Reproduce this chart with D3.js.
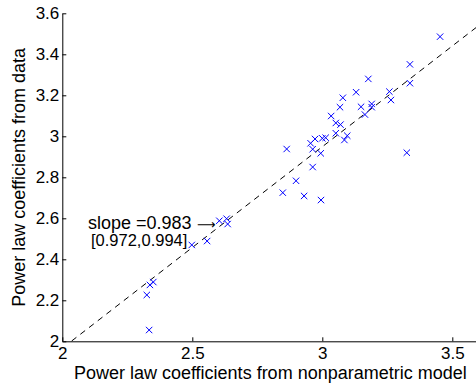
<!DOCTYPE html>
<html>
<head>
<meta charset="utf-8">
<script src="https://cdn.jsdelivr.net/npm/d3@7"></script>
<style>
  html, body { margin: 0; padding: 0; background: #fff; }
  svg { display: block; font-family: "Liberation Sans", Arial, Helvetica, sans-serif; }
</style>
</head>
<body>
<svg id="chart" width="476" height="387"></svg>
<script>
// Power-law exponents: nonparametric model (x) vs. direct fit to data (y)
const modelCoef = [
  3.453, 3.337, 3.337, 3.177, 3.130, 3.258, 3.264, 3.079, 3.068, 3.149,
  3.190, 3.190, 3.164, 3.034, 3.052, 3.070, 3.052, 3.096, 3.085, 2.972,
  3.000, 3.013, 2.955, 2.963, 2.994, 2.963, 3.325, 2.863, 2.899, 2.848,
  2.930, 2.995, 2.604, 2.632, 2.636, 2.498, 2.557, 2.350, 2.337, 2.325,
  2.334
];
const dataCoef = [
  3.486, 3.351, 3.259, 3.280, 3.215, 3.218, 3.177, 3.188, 3.142, 3.144,
  3.158, 3.142, 3.106, 3.099, 3.065, 3.057, 3.015, 3.003, 2.982, 2.987,
  2.990, 2.993, 2.966, 2.937, 2.917, 2.850, 2.920, 2.938, 2.783, 2.725,
  2.709, 2.689, 2.588, 2.598, 2.572, 2.470, 2.489, 2.289, 2.275, 2.226,
  2.055
];

// Fitted line through the origin
const slope = 0.983;
const slopeCI = [0.972, 0.994];
const fitRange = [2.036, 3.6];

const xTicks = [2, 2.5, 3, 3.5];
const xTickLabels = ["2", "2.5", "3", "3.5"];
const yTicks = [2, 2.2, 2.4, 2.6, 2.8, 3, 3.2, 3.4, 3.6];
const yTickLabels = ["2", "2.2", "2.4", "2.6", "2.8", "3", "3.2", "3.4", "3.6"];

const xLabel = "Power law coefficients from nonparametric model";
const yLabel = "Power law coefficients from data";

const svg = d3.select("#chart");
const plotLeft = 62.3, plotRight = 478.3, plotTop = 13.3, plotBottom = 341.3;

const x = d3.scaleLinear().domain([2, 3.6]).range([plotLeft, plotRight]);
const y = d3.scaleLinear().domain([2, 3.6]).range([plotBottom, plotTop]);

// Dashed regression line
const fit = fitRange.map(v => [v, slope * v]);
svg.append("path")
  .attr("d", d3.line().x(d => x(d[0])).y(d => y(d[1]))(fit))
  .attr("fill", "none")
  .attr("stroke", "#000")
  .attr("stroke-width", 1)
  .attr("stroke-dasharray", "6,5");

// Cross markers
const pts = modelCoef.map((v, i) => [v, dataCoef[i]]);
const r = 3.2;
svg.append("g").selectAll("path")
  .data(pts).join("path")
  .attr("d", d => {
    const cx = x(d[0]), cy = y(d[1]);
    return `M${cx - r},${cy - r}L${cx + r},${cy + r}M${cx - r},${cy + r}L${cx + r},${cy - r}`;
  })
  .attr("stroke", "#0000ff")
  .attr("stroke-width", 1)
  .attr("fill", "none");

// Axes: ticks point inward
const xAxis = d3.axisBottom(x).tickValues(xTicks)
  .tickFormat((d, i) => xTickLabels[i]).tickSizeInner(-4).tickSizeOuter(0).tickPadding(10);
const yAxis = d3.axisLeft(y).tickValues(yTicks)
  .tickFormat((d, i) => yTickLabels[i]).tickSizeInner(-4).tickSizeOuter(0).tickPadding(7);

const gx = svg.append("g").attr("transform", `translate(0,${plotBottom})`).call(xAxis);
const gy = svg.append("g").attr("transform", `translate(${plotLeft},0)`).call(yAxis);

[gx, gy].forEach(g => {
  g.select(".domain").attr("stroke", "#000").attr("stroke-width", 1);
  g.selectAll(".tick line").attr("stroke", "#000").attr("stroke-width", 1);
  g.selectAll(".tick text")
    .attr("fill", "#000")
    .style("font-family", "'Liberation Sans', Arial, sans-serif")
    .style("font-size", "17px");
});
gy.selectAll(".tick text").attr("x", -3);
gx.selectAll(".tick text").attr("y", 6);

// Axis titles
svg.append("text")
  .attr("x", (plotLeft + plotRight) / 2)
  .attr("y", 379)
  .attr("text-anchor", "middle")
  .style("font-size", "18px")
  .attr("fill", "#000")
  .text(xLabel);

svg.append("text")
  .attr("transform", `translate(25,${(plotTop + plotBottom) / 2}) rotate(-90)`)
  .attr("text-anchor", "middle")
  .style("font-size", "18px")
  .attr("fill", "#000")
  .text(yLabel);

// Slope annotation with its confidence interval
svg.append("text")
  .attr("x", 88)
  .attr("y", 228.5)
  .style("font-size", "18px")
  .attr("fill", "#000")
  .text(`slope =${slope.toFixed(3)}`);

// Arrow pointing at the fitted line
svg.append("text")
  .attr("x", 197)
  .attr("y", 229)
  .style("font-family", "'DejaVu Sans', sans-serif")
  .style("font-size", "13px")
  .attr("fill", "#000")
  .text("\u27F6");

svg.append("text")
  .attr("x", 91)
  .attr("y", 246)
  .style("font-size", "16.5px")
  .attr("fill", "#000")
  .text(`[${slopeCI[0].toFixed(3)},${slopeCI[1].toFixed(3)}]`);
</script>
</body>
</html>
